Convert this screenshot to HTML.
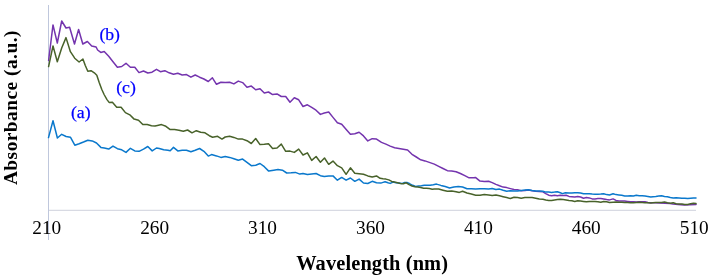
<!DOCTYPE html>
<html><head><meta charset="utf-8"><style>
html,body{margin:0;padding:0;background:#fff;}
body{width:709px;height:276px;overflow:hidden;}
svg{display:block;will-change:transform;}
text{font-family:"Liberation Serif",serif;}
</style></head><body>
<svg width="709" height="276" viewBox="0 0 709 276">
<rect width="709" height="276" fill="#fff"/>
<line x1="48.5" y1="5" x2="48.5" y2="240" stroke="#BFC7DC" stroke-width="1"/>
<line x1="49" y1="210.4" x2="696" y2="210.4" stroke="#D8DAE3" stroke-width="1.2"/>
<g fill="none" stroke-width="1.5" stroke-linejoin="round" stroke-linecap="round">
<polyline stroke="#7434AE" points="48.6,60.5 53.0,24.9 57.3,43.0 61.7,21.0 66.0,28.0 69.6,27.3 74.5,44.0 78.6,29.5 82.8,44.0 87.4,41.5 91.7,45.9 96.1,47.0 97.6,50.0 100.8,52.4 104.2,51.5 108.7,56.3 113.0,61.7 117.4,67.2 121.7,66.5 126.0,63.3 130.4,67.2 134.8,67.2 139.0,72.6 143.5,71.0 147.8,73.0 152.0,72.2 156.5,69.3 160.4,71.7 164.8,70.7 169.1,72.8 173.5,74.3 177.8,73.3 182.2,75.0 186.5,74.6 190.9,77.2 195.2,75.0 199.6,77.2 203.9,79.0 208.3,81.5 212.4,77.8 216.5,84.3 220.9,82.2 225.2,82.6 229.6,82.2 233.9,83.9 238.3,81.1 242.6,82.6 247.0,87.2 251.3,86.1 255.7,89.8 260.0,88.7 264.3,93.0 268.5,92.0 272.6,94.6 277.0,93.9 281.3,96.5 285.7,96.5 290.0,102.2 294.3,97.8 298.7,99.8 303.0,106.5 307.4,104.8 311.7,107.4 316.0,110.2 320.4,114.4 324.3,113.0 328.7,112.0 333.0,117.4 337.4,122.8 341.7,124.3 346.0,129.3 350.4,134.3 354.8,133.7 359.1,132.2 363.5,135.9 367.8,140.9 372.2,138.7 376.5,139.1 381.5,142.4 385.9,144.1 390.2,146.1 394.6,147.8 398.9,148.5 403.3,149.3 407.6,150.0 412.0,154.3 416.3,157.0 420.7,159.8 425.0,160.9 429.3,162.4 434.3,164.1 438.7,166.3 443.0,168.5 447.4,170.7 451.7,171.1 456.1,171.7 460.4,173.5 464.8,175.7 469.1,177.8 473.5,177.8 475.7,177.6 480.0,181.1 484.3,181.5 488.6,181.3 492.2,182.6 495.9,184.4 499.5,185.8 503.1,187.1 506.7,187.6 510.4,188.6 514.0,189.5 517.6,189.8 521.2,190.7 525.0,190.5 528.5,190.1 532.1,190.8 535.7,191.3 539.3,191.4 542.9,191.8 545.8,193.6 548.7,195.2 551.6,195.7 554.5,195.3 557.4,195.7 560.3,195.3 563.2,195.6 566.1,195.3 569.0,196.4 571.9,196.7 574.8,197.0 577.7,196.4 580.6,197.0 583.5,198.2 586.4,197.5 589.3,197.9 592.2,198.9 595.0,198.9 597.9,198.6 600.8,198.5 603.7,198.9 606.6,199.6 609.5,199.9 613.1,198.9 616.0,200.4 618.9,201.1 621.8,201.1 624.7,201.1 627.6,201.4 630.5,201.8 633.4,201.8 636.3,202.1 639.2,201.8 642.1,201.8 645.0,201.8 647.9,202.5 650.8,202.8 655.0,202.8 660.0,203.0 665.0,203.2 670.0,203.6 673.0,204.0 678.0,204.4 684.0,205.0 690.0,204.8 696.0,204.4"/>
<polyline stroke="#0A78CC" points="48.5,137.6 53.0,120.7 57.4,138.0 61.7,134.3 66.1,136.5 70.4,137.2 74.8,145.2 79.1,143.7 83.5,142.0 87.8,140.2 92.2,140.9 96.5,143.0 100.9,147.4 104.3,148.0 108.7,149.1 113.0,146.1 117.4,148.7 121.7,149.8 126.0,152.4 130.4,148.3 134.8,150.9 139.1,151.3 143.5,149.1 147.8,146.5 152.2,150.9 156.5,148.0 159.3,148.5 163.7,149.8 168.0,150.2 170.2,150.7 173.5,147.4 177.8,150.9 182.2,150.2 186.5,150.2 190.9,151.7 195.2,150.2 199.6,148.5 203.9,151.3 208.3,156.1 211.5,154.6 216.5,155.9 220.9,157.4 225.2,156.5 229.6,157.4 233.9,158.7 238.3,160.2 242.6,159.1 247.0,162.4 251.3,165.7 255.7,165.2 260.0,163.5 264.3,166.7 268.7,171.1 273.7,170.2 278.0,169.6 282.4,170.2 286.7,173.0 291.1,172.8 295.4,172.4 299.8,174.1 303.0,173.5 307.4,174.6 311.7,174.1 316.1,173.5 320.4,175.7 324.3,176.5 328.7,175.9 333.0,175.9 337.4,180.2 341.7,177.4 346.1,180.2 350.4,178.0 354.8,181.3 359.1,179.1 363.5,183.0 367.8,183.5 372.2,181.3 376.5,182.8 380.8,183.1 383.0,182.4 385.1,181.7 388.0,182.7 390.2,183.4 393.1,182.1 396.0,182.7 398.9,183.1 401.8,183.6 404.7,182.4 406.9,182.4 409.8,183.8 412.7,185.3 415.6,186.4 418.5,186.0 421.4,185.7 424.3,185.3 427.2,185.3 430.1,185.3 433.3,184.8 436.5,184.1 440.9,185.4 445.2,186.5 449.6,188.0 453.9,187.0 458.3,186.5 462.6,187.0 467.0,188.7 471.3,188.7 475.7,189.1 480.0,188.7 484.3,188.7 488.6,189.1 492.2,188.6 495.9,189.5 499.5,189.1 503.1,190.3 506.7,191.2 510.4,190.8 514.0,191.0 517.6,190.9 521.2,190.5 524.9,190.1 528.5,189.7 532.1,190.4 535.7,190.9 539.3,190.9 542.9,191.2 545.8,192.1 548.7,192.1 551.6,192.4 554.5,192.1 557.4,191.7 560.3,192.7 562.5,193.6 565.4,192.7 569.0,193.1 571.9,193.1 574.8,192.8 577.7,192.7 580.6,193.1 583.5,193.8 586.4,193.8 589.3,193.8 592.2,194.1 595.0,194.3 597.9,194.3 600.8,194.1 603.7,193.8 606.6,194.6 609.5,195.0 613.1,193.8 616.0,194.6 618.9,194.9 621.8,195.3 624.7,196.0 627.6,196.0 630.5,195.7 633.4,196.0 636.3,195.3 639.2,195.7 642.1,195.7 645.0,196.0 647.9,196.4 650.8,197.0 652.9,196.7 655.8,196.4 658.7,196.0 661.6,195.7 664.5,196.4 667.4,196.7 670.3,197.5 673.2,197.9 676.1,197.8 679.0,197.9 681.9,198.2 684.8,198.2 687.7,198.5 690.6,198.2 693.5,197.9 696.0,197.9"/>
<polyline stroke="#48622A" points="48.6,66.6 53.0,45.9 57.3,61.8 61.7,48.0 66.0,37.6 70.4,51.7 74.7,58.2 79.1,62.0 82.9,59.0 85.3,65.5 87.8,71.2 91.0,70.7 94.3,72.8 96.8,75.3 99.2,82.6 101.7,89.2 104.1,94.5 107.0,99.6 109.1,102.4 112.4,102.2 116.7,107.2 121.1,107.2 125.4,112.6 129.8,114.8 134.1,119.1 138.5,120.2 142.8,124.6 147.2,124.6 151.5,125.7 155.0,126.0 157.4,125.5 161.5,124.6 165.9,126.3 170.2,129.6 174.6,129.6 178.9,130.2 183.3,131.3 187.6,130.0 192.0,132.8 196.3,130.7 200.7,132.2 205.0,132.8 209.3,135.7 212.6,137.2 217.6,136.3 222.0,139.1 225.2,137.0 229.6,136.3 233.9,137.4 238.3,139.1 242.6,139.1 247.0,140.7 251.3,143.5 255.7,138.5 260.0,144.6 264.3,144.3 268.5,143.8 272.6,148.5 277.0,148.0 281.3,144.1 285.7,151.3 290.0,151.1 294.3,152.4 298.7,149.1 303.0,155.0 307.4,152.8 311.7,160.4 316.1,156.5 320.4,162.2 324.5,158.0 328.7,164.3 333.0,161.1 337.4,165.7 341.7,167.8 346.1,174.3 350.4,167.8 354.8,173.3 359.1,173.7 363.5,174.3 367.8,175.9 372.2,177.0 376.5,175.9 380.1,178.3 383.0,178.8 385.9,179.1 388.8,179.9 391.7,181.4 394.6,182.1 397.5,182.7 400.4,183.4 403.3,183.8 406.2,182.8 409.1,184.6 412.0,186.0 414.9,186.7 417.8,187.0 420.7,187.5 423.6,188.2 426.4,188.2 429.3,188.6 432.2,189.2 434.3,189.1 438.7,189.1 443.0,190.2 447.4,191.3 451.7,190.9 456.1,191.7 459.3,192.4 462.6,191.3 467.0,193.0 471.3,194.1 475.7,195.2 480.0,195.2 484.3,194.6 488.6,194.9 492.2,195.4 495.9,194.9 499.5,195.8 503.1,196.7 506.7,197.6 510.4,198.5 514.0,197.2 517.6,197.6 521.2,198.2 524.9,197.6 528.5,197.6 532.1,197.6 535.7,198.2 539.3,199.1 542.9,199.3 545.8,199.9 548.7,200.4 551.6,200.4 554.5,199.9 557.4,199.6 560.3,199.3 563.2,199.6 566.1,199.9 569.0,200.4 571.9,200.8 574.8,201.4 577.7,200.8 580.6,201.1 583.5,201.4 586.4,201.8 589.3,201.4 592.2,201.4 595.0,201.4 597.9,201.8 600.8,202.2 603.7,201.5 606.6,201.8 609.5,202.5 613.1,202.2 616.0,202.1 618.9,202.2 621.8,202.2 624.7,202.5 627.6,202.5 630.5,202.8 633.4,202.8 636.3,202.5 639.2,202.2 642.1,202.5 645.0,202.8 647.9,202.8 650.8,203.0 652.9,202.8 655.8,202.5 658.7,202.5 661.6,202.5 664.5,202.1 667.4,202.8 670.3,203.3 673.2,202.8 676.1,203.7 679.0,204.0 681.9,204.0 684.8,204.4 687.7,204.4 690.6,203.7 693.5,203.3 696.0,203.6"/>
</g>
<g font-size="19.3" fill="#000"><text x="46.7" y="234.3" text-anchor="middle">210</text><text x="154.6" y="234.3" text-anchor="middle">260</text><text x="262.5" y="234.3" text-anchor="middle">310</text><text x="370.5" y="234.3" text-anchor="middle">360</text><text x="478.4" y="234.3" text-anchor="middle">410</text><text x="586.3" y="234.3" text-anchor="middle">460</text><text x="694.2" y="234.3" text-anchor="middle">510</text></g>
<text x="372.2" y="269.6" text-anchor="middle" font-size="20.4" letter-spacing="0.12" font-weight="bold" fill="#000">Wavelength (nm)</text>
<text transform="translate(16.9,107.6) rotate(-90)" text-anchor="middle" font-size="19.4" letter-spacing="0.47" font-weight="bold" fill="#000">Absorbance (a.u.)</text>
<g font-size="17.7" fill="#0000FF" stroke="#0000FF" stroke-width="0.25">
<text x="70.9" y="118.3">(a)</text>
<text x="99.4" y="39.7">(b)</text>
<text x="116.2" y="92.6">(c)</text>
</g>
</svg>
</body></html>
